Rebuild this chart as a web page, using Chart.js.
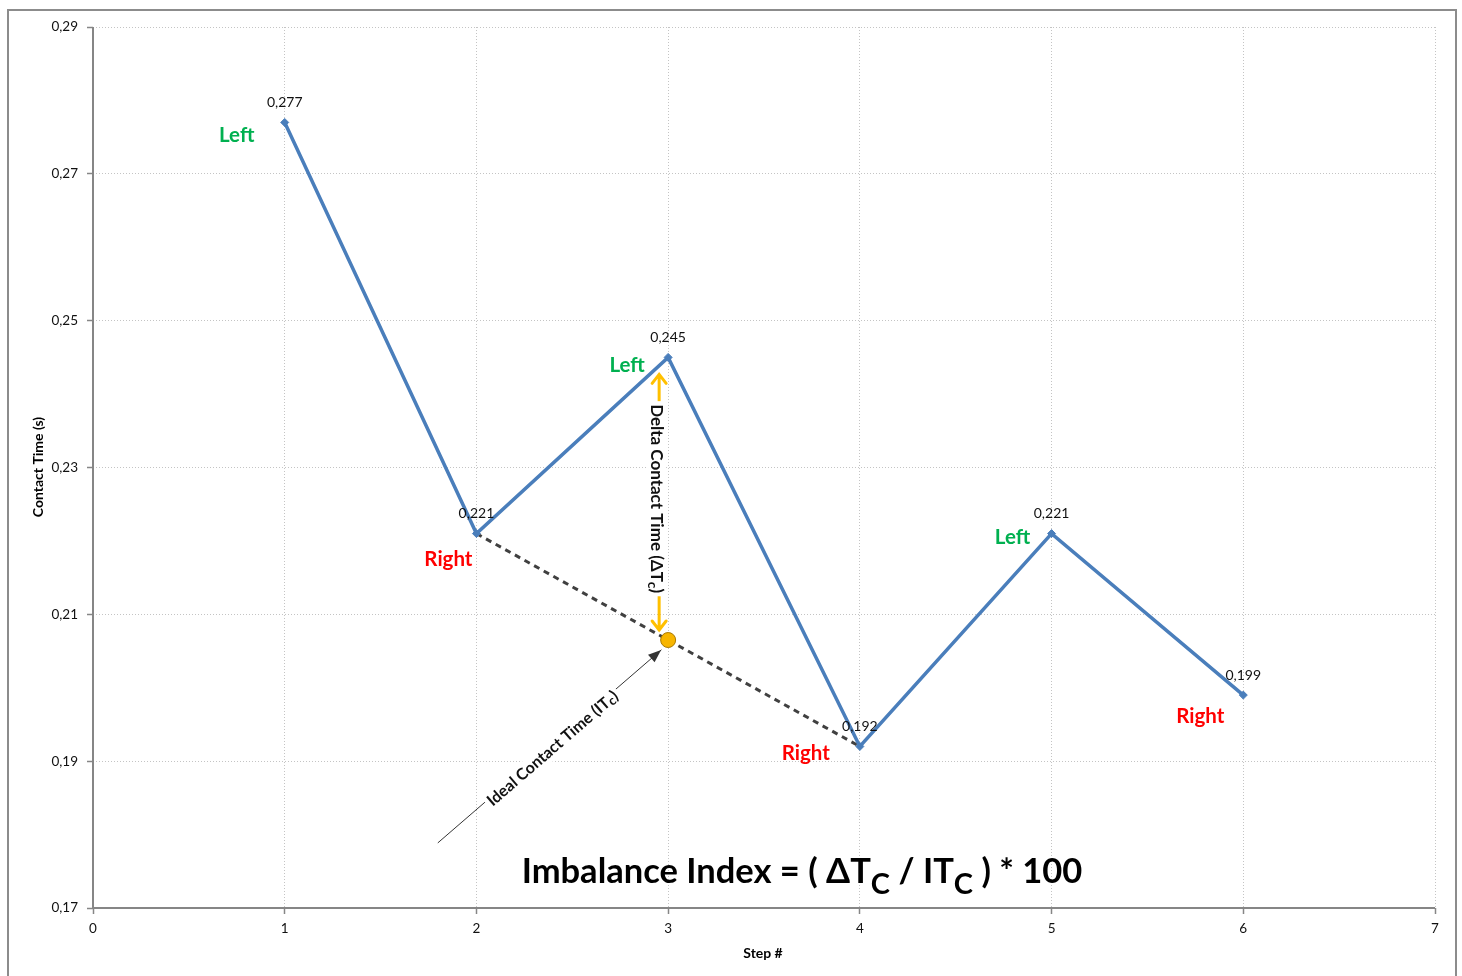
<!DOCTYPE html>
<html>
<head>
<meta charset="utf-8">
<script src="https://cdn.jsdelivr.net/npm/chart.js@4.4.0/dist/chart.umd.min.js"></script>
<style>
  html, body { margin: 0; padding: 0; background: #fff; }
  #wrap { width: 1462px; height: 976px; }
</style>
</head>
<body>
<div id="wrap"><canvas id="c" width="1462" height="976"></canvas></div>
<script>
// --- data ---
const steps = [1, 2, 3, 4, 5, 6];
const contactTimes = [0.277, 0.221, 0.245, 0.192, 0.221, 0.199];
const footLabels = ['Left', 'Right', 'Left', 'Right', 'Left', 'Right'];
const xTicks = [0, 1, 2, 3, 4, 5, 6, 7];
const yTicks = [0.17, 0.19, 0.21, 0.23, 0.25, 0.27, 0.29];
const idealStepsX = [2, 4];
const idealStepsY = [0.221, 0.192];
const idealPointX = [3];
const idealPointY = [0.2065];

const FONT = 'Lato, "Open Sans", sans-serif';
const comma = v => String(v).replace('.', ',');

// pixel offsets of the Left/Right labels from their point
const footOffsets = [[-48, 13], [-28, 26], [-41, 8], [-54, 7], [-39, 4], [-43, 21]];

function drawSubText(ctx, parts, x, y, align) {
  // parts: [text, size, dy]
  let total = 0;
  parts.forEach(p => { ctx.font = 'bold ' + p[1] + 'px ' + FONT; total += ctx.measureText(p[0]).width; });
  let cx = align === 'center' ? x - total / 2 : x;
  ctx.textAlign = 'left';
  parts.forEach(p => {
    ctx.font = 'bold ' + p[1] + 'px ' + FONT;
    ctx.fillText(p[0], cx, y + p[2]);
    cx += ctx.measureText(p[0]).width;
  });
  return total;
}

const annotations = {
  id: 'annotations',
  beforeDatasetsDraw(chart) {
    const { ctx, chartArea: a } = chart;
    ctx.save();
    ctx.strokeStyle = '#868686';
    ctx.lineWidth = 2;
    ctx.beginPath();
    ctx.moveTo(a.left, a.top);
    ctx.lineTo(a.left, a.bottom);
    ctx.lineTo(a.right, a.bottom);
    ctx.stroke();
    ctx.restore();
  },
  afterDatasetsDraw(chart) {
    const { ctx } = chart;
    const xs = chart.scales.x, ys = chart.scales.y;
    ctx.save();

    // outer frame
    ctx.strokeStyle = '#8c8c8c';
    ctx.lineWidth = 2;
    ctx.strokeRect(8, 10, 1448, 980);

    // value labels
    ctx.fillStyle = '#111';
    ctx.font = '14px ' + FONT;
    ctx.textAlign = 'center';
    ctx.textBaseline = 'middle';
    steps.forEach((s, i) => {
      ctx.fillText(comma(contactTimes[i]), xs.getPixelForValue(s), ys.getPixelForValue(contactTimes[i]) - 20);
    });

    // Left / Right labels
    ctx.font = 'bold 20.5px ' + FONT;
    steps.forEach((s, i) => {
      ctx.fillStyle = footLabels[i] === 'Left' ? '#00b050' : '#ff0000';
      ctx.fillText(footLabels[i], xs.getPixelForValue(s) + footOffsets[i][0], ys.getPixelForValue(contactTimes[i]) + footOffsets[i][1]);
    });

    // delta double arrow
    const px = xs.getPixelForValue(idealPointX[0]);
    const pyIdeal = ys.getPixelForValue(idealPointY[0]);
    const pyTop = ys.getPixelForValue(contactTimes[2]);
    const ax = px - 9, y1 = pyTop + 17, y2 = pyIdeal - 10;
    ctx.strokeStyle = '#ffc000';
    ctx.lineWidth = 3;
    ctx.lineCap = 'round';
    ctx.beginPath();
    ctx.moveTo(ax, y1); ctx.lineTo(ax, y2);
    ctx.moveTo(ax - 7, y1 + 9); ctx.lineTo(ax, y1); ctx.lineTo(ax + 7, y1 + 9);
    ctx.moveTo(ax - 7, y2 - 9); ctx.lineTo(ax, y2); ctx.lineTo(ax + 7, y2 - 9);
    ctx.stroke();

    // delta label
    ctx.save();
    ctx.translate(px - 12, (pyTop + pyIdeal) / 2);
    ctx.rotate(Math.PI / 2);
    const dParts = [['Delta Contact Time (\u0394T', 17, 0], ['c', 14, 4], [')', 17, 0]];
    let w = 0;
    dParts.forEach(p => { ctx.font = 'bold ' + p[1] + 'px ' + FONT; w += ctx.measureText(p[0]).width; });
    ctx.fillStyle = '#fff';
    ctx.fillRect(-w / 2 - 3, -10, w + 6, 20);
    ctx.fillStyle = '#111';
    ctx.textBaseline = 'middle';
    drawSubText(ctx, dParts, 0, 0, 'center');
    ctx.restore();

    // ideal arrow
    const sx = xs.getPixelForValue(1.8), sy = ys.getPixelForValue(0.1789);
    const ex = px - 7, ey = pyIdeal + 10;
    const ang = Math.atan2(ey - sy, ex - sx);
    ctx.strokeStyle = '#333';
    ctx.fillStyle = '#333';
    ctx.lineWidth = 1;
    ctx.beginPath();
    ctx.moveTo(sx, sy); ctx.lineTo(ex, ey);
    ctx.stroke();
    ctx.beginPath();
    ctx.moveTo(ex, ey);
    ctx.lineTo(ex - 13 * Math.cos(ang) + 5 * Math.sin(ang), ey - 13 * Math.sin(ang) - 5 * Math.cos(ang));
    ctx.lineTo(ex - 13 * Math.cos(ang) - 5 * Math.sin(ang), ey - 13 * Math.sin(ang) + 5 * Math.cos(ang));
    ctx.closePath();
    ctx.fill();

    ctx.save();
    ctx.translate((sx + ex) / 2 + 3, (sy + ey) / 2 + 2);
    ctx.rotate(ang);
    const iParts = [['Ideal Contact Time (IT', 16, 0], ['c', 13, 3], [')', 16, 0]];
    w = 0;
    iParts.forEach(p => { ctx.font = 'bold ' + p[1] + 'px ' + FONT; w += ctx.measureText(p[0]).width; });
    ctx.fillStyle = '#fff';
    ctx.fillRect(-w / 2 - 3, -10, w + 6, 20);
    ctx.fillStyle = '#111';
    ctx.textBaseline = 'middle';
    drawSubText(ctx, iParts, 0, 0, 'center');
    ctx.restore();

    // formula
    ctx.fillStyle = '#000';
    ctx.textBaseline = 'alphabetic';
    drawSubText(ctx, [
      ['Imbalance Index = ( \u0394T', 34.5, 0], ['C', 29, 11], [' / IT', 34.5, 0], ['C', 29, 11], [' ) * 100', 34.5, 0]
    ], 802, 883, 'center');

    // axis titles
    ctx.font = 'bold 14px ' + FONT;
    ctx.textAlign = 'center';
    ctx.textBaseline = 'middle';
    ctx.fillText('Step #', 763, 953);
    ctx.save();
    ctx.translate(38, 467);
    ctx.rotate(-Math.PI / 2);
    ctx.fillText('Contact Time (s)', 0, 0);
    ctx.restore();

    ctx.restore();
  }
};

new Chart(document.getElementById('c'), {
  type: 'line',
  data: {
    datasets: [
      {
        data: steps.map((s, i) => ({ x: s, y: contactTimes[i] })),
        borderColor: '#4a7ebb',
        backgroundColor: '#4a7ebb',
        borderWidth: 3.5,
        pointStyle: 'rectRot',
        pointRadius: 4,
        pointBorderWidth: 1,
        tension: 0,
        order: 1
      },
      {
        data: idealStepsX.map((s, i) => ({ x: s, y: idealStepsY[i] })),
        borderColor: '#404040',
        borderWidth: 3,
        borderDash: [6, 5],
        pointRadius: 0,
        order: 3
      },
      {
        data: idealPointX.map((s, i) => ({ x: s, y: idealPointY[i] })),
        showLine: false,
        pointRadius: 7.5,
        pointBackgroundColor: '#f7b500',
        pointBorderColor: '#a87800',
        pointBorderWidth: 1,
        order: 2
      }
    ]
  },
  options: {
    responsive: false,
    animation: false,
    devicePixelRatio: 1,
    layout: { padding: { left: 0, right: 27, top: 27, bottom: 0 } },
    plugins: { legend: { display: false }, tooltip: { enabled: false } },
    scales: {
      x: {
        type: 'linear',
        min: 0, max: 7,
        afterBuildTicks: s => { s.ticks = xTicks.map(v => ({ value: v })); },
        afterFit: s => { s.height = 68; },
        ticks: { color: '#111', font: { family: FONT, size: 13.5 }, padding: 7 },
        grid: { color: '#c4c4c4', lineWidth: 1, tickLength: 6, tickColor: '#868686', tickWidth: 1.5, tickBorderDash: [] },
        border: { display: false, dash: [1, 2] }
      },
      y: {
        type: 'linear',
        min: 0.17, max: 0.29,
        afterBuildTicks: s => { s.ticks = yTicks.map(v => ({ value: v })); },
        afterFit: s => { s.width = 93; },
        ticks: { color: '#111', font: { family: FONT, size: 13.5 }, padding: 9, callback: v => comma(v) },
        grid: { color: '#c4c4c4', lineWidth: 1, tickLength: 6, tickColor: '#868686', tickWidth: 1.5, tickBorderDash: [] },
        border: { display: false, dash: [1, 2] }
      }
    }
  },
  plugins: [annotations]
});
</script>
</body>
</html>
